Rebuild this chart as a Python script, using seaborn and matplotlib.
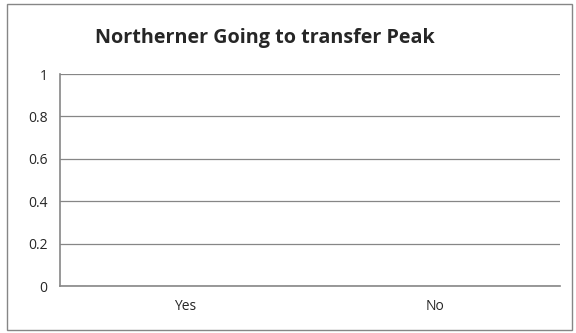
import matplotlib
matplotlib.use("Agg")
import matplotlib.pyplot as plt
import seaborn as sns
import pandas as pd
from matplotlib.patches import Rectangle

categories = ["Yes", "No"]
values = [0, 0]
y_ticks = [0, 0.2, 0.4, 0.6, 0.8, 1]
y_labels = ["0", "0.2", "0.4", "0.6", "0.8", "1"]
title = "Northerner Going to transfer Peak"

data = pd.DataFrame({"answer": categories, "count": values})

sns.set_style("white")
plt.rcParams["font.family"] = ["Open Sans", "DejaVu Sans"]

fig = plt.figure(figsize=(5.76, 3.33), dpi=100)
ax = fig.add_axes([60 / 576, 1 - 286 / 333, 500 / 576, 212 / 333])

sns.barplot(data=data, x="answer", y="count", color="#4f81bd", ax=ax)

grey = "#868686"
ax.set_xlim(-0.5, 1.5)
ax.set_ylim(0, 1)
ax.set_yticks(y_ticks)
ax.set_yticklabels(y_labels, fontsize=10)
ax.yaxis.grid(True, color=grey, linewidth=0.9)
ax.set_axisbelow(True)

# category boundaries as major ticks, names centred as minor ticks
ax.set_xticks([-0.5, 0.5, 1.5])
ax.set_xticklabels([])
ax.set_xticks([0, 1], minor=True)
ax.set_xticklabels(categories, minor=True, fontsize=10)
ax.tick_params(axis="x", which="major", length=4, color=grey, direction="out")
ax.tick_params(axis="x", which="minor", length=0, pad=9)
ax.tick_params(axis="y", length=4, color=grey, direction="out", pad=5)

for side in ["top", "right"]:
    ax.spines[side].set_visible(False)
for side in ["left", "bottom"]:
    ax.spines[side].set_color(grey)
    ax.spines[side].set_linewidth(1.2)

ax.set_xlabel("")
ax.set_ylabel("")
fig.text(265 / 576, 1 - 38 / 333, title, ha="center", va="center",
         fontsize=14.2, fontweight="bold")

fig.patches.append(Rectangle((7 / 576, 3 / 333), 565 / 576, 326 / 333,
                             transform=fig.transFigure, fill=False,
                             edgecolor=grey, linewidth=1))

fig.savefig("out.png", dpi=100)
